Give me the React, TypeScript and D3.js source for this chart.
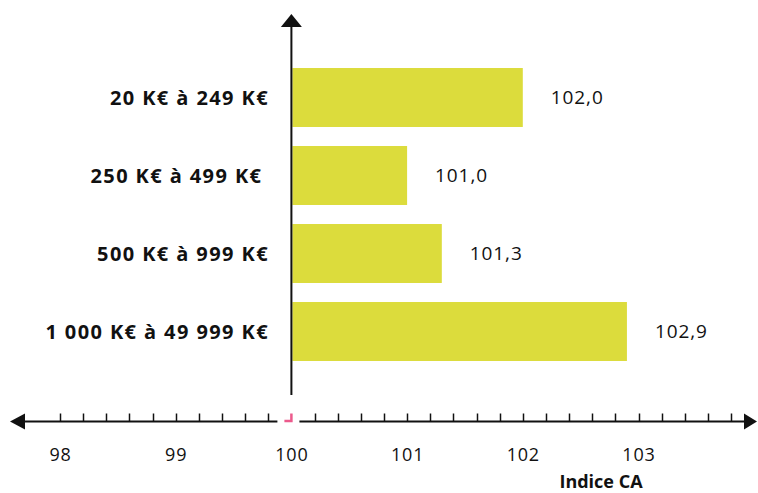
import React, { useEffect, useRef } from 'react';
import * as d3 from 'd3';

const categories = ['20 K€ à 249 K€', '250 K€ à 499 K€ ', '500 K€ à 999 K€', '1 000 K€ à 49 999 K€'];
const values = [102.0, 101.0, 101.3, 102.9];
const tickLabels = [98, 99, 100, 101, 102, 103];
const axisTitle = 'Indice CA';

const WIDTH = 758;
const HEIGHT = 493;
const FONT = '"Open Sans", sans-serif';
const BAR_COLOR = '#dcdc3c';

const App: React.FC = () => {
  const svgRef = useRef<SVGSVGElement>(null);

  useEffect(() => {
    if (!svgRef.current) return;
    const svg = d3.select(svgRef.current);
    svg.selectAll('*').remove();

    const x = d3.scaleLinear().domain([98, 103]).range([60, 638.5]);
    const y = d3.scaleBand<string>()
      .domain(categories)
      .range([58.5, 370.5])
      .paddingInner(0.244)
      .paddingOuter(0.122);

    const axisY = 421.5;
    const zeroX = x(100);

    // Bars
    svg.append('g')
      .selectAll('rect')
      .data(values)
      .join('rect')
      .attr('x', zeroX + 1)
      .attr('y', (_, i) => y(categories[i])!)
      .attr('width', d => x(d) - zeroX - 1)
      .attr('height', y.bandwidth())
      .attr('fill', BAR_COLOR);

    // Value labels
    svg.append('g')
      .selectAll('text')
      .data(values)
      .join('text')
      .attr('x', d => x(d) + 28)
      .attr('y', (_, i) => y(categories[i])! + y.bandwidth() / 2)
      .attr('dy', '0.36em')
      .attr('font-family', FONT)
      .attr('font-size', 19)
      .attr('letter-spacing', 0.9)
      .attr('fill', '#111')
      .text(d => d.toFixed(1).replace('.', ','));

    // Category labels
    svg.append('g')
      .selectAll('text')
      .data(categories)
      .join('text')
      .attr('x', 269)
      .attr('y', d => y(d)! + y.bandwidth() / 2)
      .attr('dy', '0.36em')
      .attr('text-anchor', 'end')
      .attr('font-family', FONT)
      .attr('font-size', 20)
      .attr('font-weight', 'bold')
      .attr('letter-spacing', 1.4)
      .attr('fill', '#111')
      .style('white-space', 'pre')
      .text(d => d);

    // Vertical axis with arrow
    svg.append('line')
      .attr('x1', zeroX).attr('x2', zeroX)
      .attr('y1', 25).attr('y2', 395)
      .attr('stroke', '#111').attr('stroke-width', 2);
    svg.append('path')
      .attr('d', `M${zeroX},14 L${zeroX + 10.5},27 L${zeroX - 10.5},27 Z`)
      .attr('fill', '#111');

    // Horizontal axis line (broken around 100)
    svg.append('line')
      .attr('x1', 22).attr('x2', zeroX - 14)
      .attr('y1', axisY).attr('y2', axisY)
      .attr('stroke', '#111').attr('stroke-width', 2);
    svg.append('line')
      .attr('x1', zeroX + 8).attr('x2', 748)
      .attr('y1', axisY).attr('y2', axisY)
      .attr('stroke', '#111').attr('stroke-width', 2);
    svg.append('path')
      .attr('d', `M10,${axisY} L25,${axisY - 8} L25,${axisY + 8} Z`)
      .attr('fill', '#111');
    svg.append('path')
      .attr('d', `M757,${axisY} L744,${axisY - 8} L744,${axisY + 8} Z`)
      .attr('fill', '#111');

    // Minor ticks every 0.2
    const minor = d3.range(0, 30).map(i => 98 + i * 0.2).filter(v => Math.abs(v - 100) > 0.01);
    svg.append('g')
      .selectAll('line')
      .data(minor)
      .join('line')
      .attr('x1', d => Math.round(x(d)) + 0.5)
      .attr('x2', d => Math.round(x(d)) + 0.5)
      .attr('y1', axisY - 8)
      .attr('y2', axisY)
      .attr('stroke', '#111')
      .attr('stroke-width', 1.5);

    // Pink marker at 100
    svg.append('path')
      .attr('d', `M${zeroX - 7},${axisY - 0.5} L${zeroX},${axisY - 0.5} L${zeroX},${axisY - 8}`)
      .attr('fill', 'none')
      .attr('stroke', '#ec5a8c')
      .attr('stroke-width', 2.5);

    // Tick labels
    svg.append('g')
      .selectAll('text')
      .data(tickLabels)
      .join('text')
      .attr('x', d => x(d) + 0.5)
      .attr('y', 461)
      .attr('text-anchor', 'middle')
      .attr('font-family', FONT)
      .attr('font-size', 18)
      .attr('letter-spacing', 0.8)
      .attr('fill', '#111')
      .text(d => d);

    // Axis title
    svg.append('text')
      .attr('x', 601)
      .attr('y', 488)
      .attr('text-anchor', 'middle')
      .attr('font-family', FONT)
      .attr('font-size', 18)
      .attr('font-weight', 'bold')
      .attr('fill', '#111')
      .text(axisTitle);
  }, []);

  return (
    <svg
      ref={svgRef}
      width={WIDTH}
      height={HEIGHT}
      style={{ position: 'absolute', left: 0, top: 0, background: '#fff' }}
    />
  );
};

export default App;
